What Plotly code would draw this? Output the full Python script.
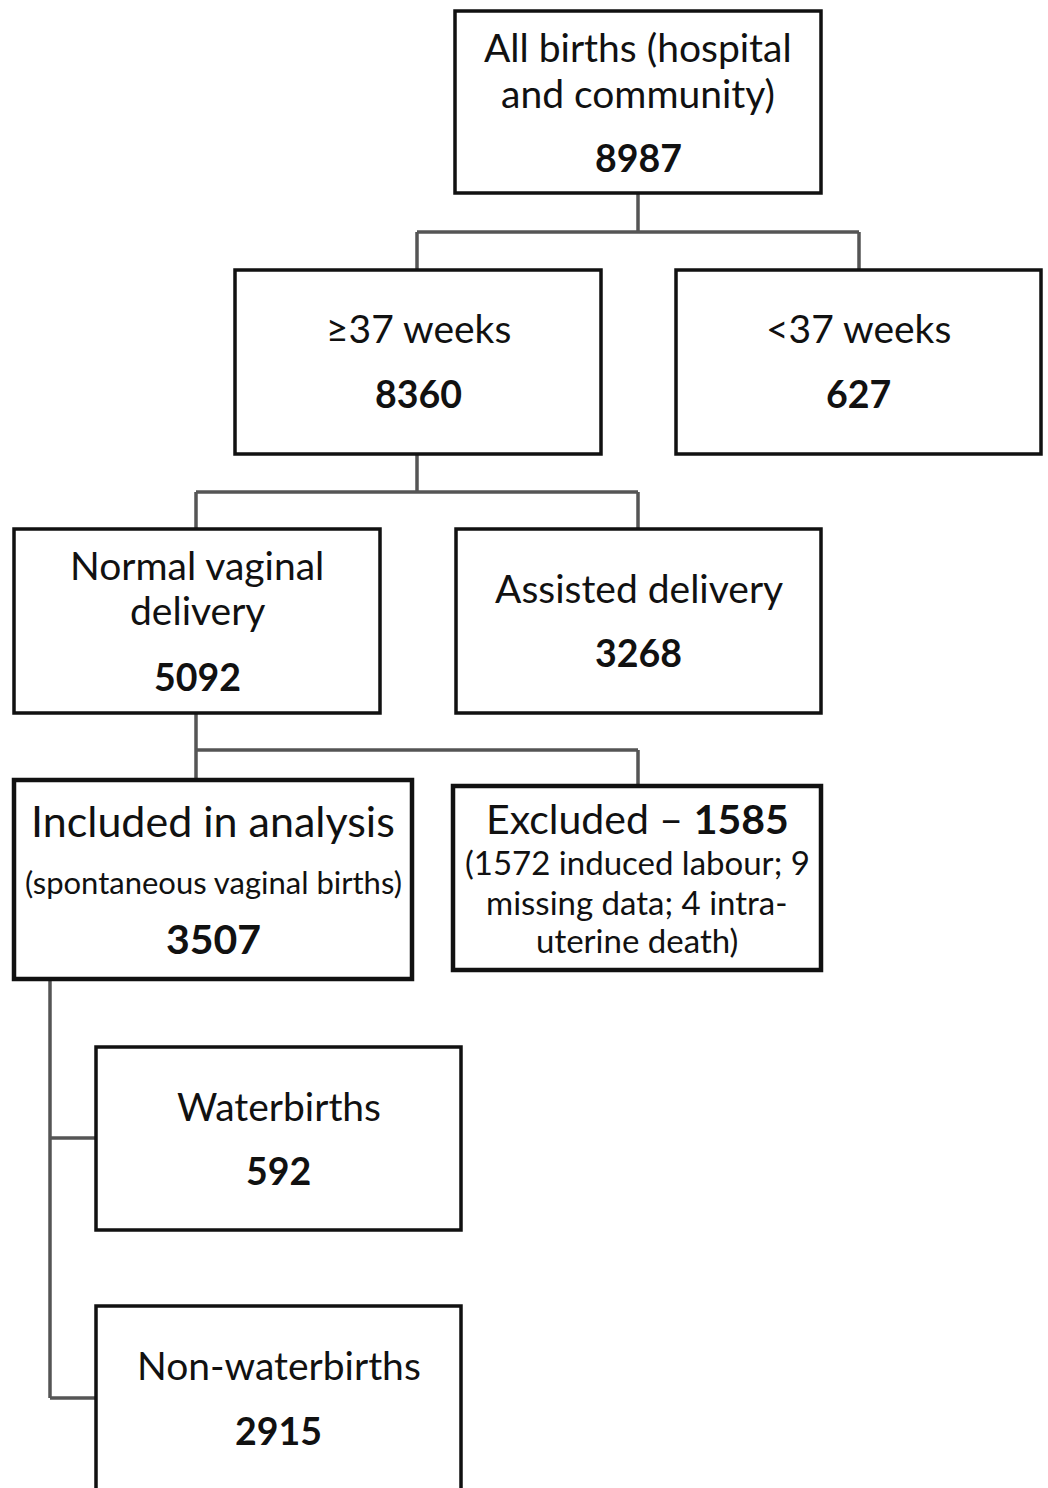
import plotly.graph_objects as go

# ---- data ----
node_titles = [
    ["All births (hospital", "and community)"],
    ["\u226537 weeks"],
    ["<37 weeks"],
    ["Normal vaginal", "delivery"],
    ["Assisted delivery"],
    ["Included in analysis"],
    ["Excluded \u2013 "],
    ["Waterbirths"],
    ["Non-waterbirths"],
]
node_counts = [8987, 8360, 627, 5092, 3268, 3507, 1585, 592, 2915]
included_note = "(spontaneous vaginal births)"
excluded_notes = ["(1572 induced labour; 9", "missing data; 4 intra-", "uterine death)"]

# ---- layout (pixel coordinates of the page) ----
W, H = 1048, 1488
boxes = [  # x0, y0, x1, y1, border width
    (455, 11, 821, 193, 3.5),
    (235, 270, 601, 454, 3.5),
    (676, 270, 1041, 454, 3.5),
    (14, 529, 380, 713, 3.5),
    (456, 529, 821, 713, 3.5),
    (14, 780, 412, 979, 4.5),
    (453, 786, 821, 970, 4.5),
    (96, 1047, 461, 1230, 3.5),
    (96, 1306, 461, 1500, 3.5),
]
title_y = [[47, 93], [328], [328], [565, 610], [588], [820], [818], [1106], [1365]]
count_y = [157, 393, 393, 676, 652, 938, None, 1170, 1430]

connectors = [
    [(638, 193), (638, 232)],
    [(417, 232), (859, 232)],
    [(417, 232), (417, 270)],
    [(859, 232), (859, 270)],
    [(417, 454), (417, 492)],
    [(196, 492), (638, 492)],
    [(196, 492), (196, 529)],
    [(638, 492), (638, 529)],
    [(196, 713), (196, 750)],
    [(196, 750), (638, 750)],
    [(196, 750), (196, 780)],
    [(638, 750), (638, 786)],
    [(50, 979), (50, 1398)],
    [(50, 1138), (96, 1138)],
    [(50, 1398), (96, 1398)],
]

FONT = "Lato"
TXT = "#111111"
fig = go.Figure()

shapes = []
for seg in connectors:
    (xa, ya), (xb, yb) = seg
    shapes.append(dict(type="line", x0=xa, y0=ya, x1=xb, y1=yb, xref="x", yref="y",
                       line=dict(color="#555555", width=3.5), layer="below"))
for (x0, y0, x1, y1, lw) in boxes:
    shapes.append(dict(type="rect", x0=x0, y0=y0, x1=x1, y1=y1, xref="x", yref="y",
                       line=dict(color="#111111", width=lw), fillcolor="white", layer="above"))

ann = []
def add_text(x, y, text, size):
    ann.append(dict(x=x, y=y, xref="x", yref="y", text=text, showarrow=False,
                    xanchor="center", yanchor="middle",
                    font=dict(family=FONT, size=size, color=TXT)))

for i, (x0, y0, x1, y1, lw) in enumerate(boxes):
    cx = (x0 + x1) / 2
    if i == 5:
        tsize, csize = 43, 41
    elif i == 6:
        tsize, csize = 41, 41
    else:
        tsize, csize = 39, 37.5
    for line, yy in zip(node_titles[i], title_y[i]):
        if i == 6:
            add_text(cx, yy, line + "<b>%d</b>" % node_counts[i], tsize)
        else:
            add_text(cx, yy, line, tsize)
    if count_y[i] is not None:
        add_text(cx, count_y[i], "<b>%d</b>" % node_counts[i], csize)

add_text(213, 882, included_note, 31)
for line, yy in zip(excluded_notes, [862, 902, 940]):
    add_text(637, yy, line, 33)

fig.update_layout(
    width=W, height=H,
    margin=dict(l=0, r=0, t=0, b=0),
    paper_bgcolor="white", plot_bgcolor="white",
    xaxis=dict(range=[0, W], visible=False, fixedrange=True),
    yaxis=dict(range=[H, 0], visible=False, fixedrange=True),
    shapes=shapes, annotations=ann, showlegend=False,
)
fig.write_html(
    "out.html",
    config={"displayModeBar": False, "staticPlot": True},
    post_script="document.body.style.margin='0';document.body.style.overflow='hidden';"
                "document.documentElement.style.overflow='hidden';",
)
